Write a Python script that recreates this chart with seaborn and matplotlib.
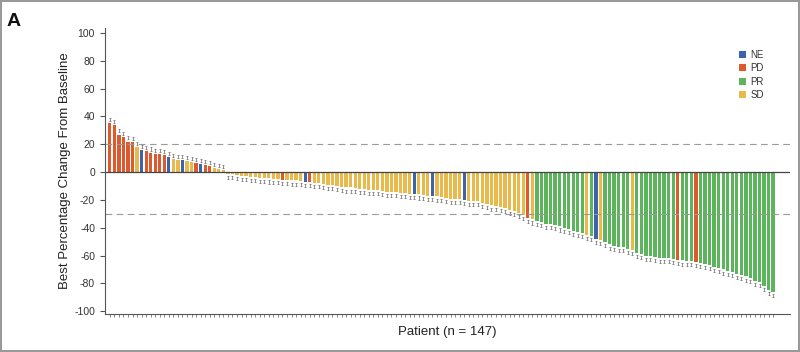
import numpy as np
import pandas as pd
import matplotlib.pyplot as plt
import seaborn as sns

# best % change from baseline, one bar per patient (sorted)
values = [
    35, 34, 27, 25, 22, 21.5, 18, 16, 15, 14,
    13, 13, 12.5, 11, 9.6, 8.6, 8.5, 8, 7, 6.7,
    5.5, 5, 4.5, 3, 2, 1.5,
    -1, -1.5, -2, -2.5, -3, -3.5, -3.5, -4, -4, -4.5,
    -5, -5, -5.5, -5.5, -6, -6, -6.5, -7, -7, -7.5,
    -8, -8.5, -9, -9.5, -10, -10.5, -11, -11, -11.5, -12,
    -12, -12.5, -13, -13, -13.5, -14, -14, -14.5, -15, -15,
    -15.5, -15.5, -16, -16.5, -17, -17, -17.5, -18, -18.5, -19,
    -19, -19.5, -20, -20.5, -21, -21, -22, -23, -24, -24.5,
    -25, -26, -27, -28, -29.5, -31, -33, -34, -35, -36,
    -37, -37.5, -38, -39, -40, -41, -42, -43, -44, -45,
    -46, -48, -49, -50, -52, -53, -53.5, -54, -55, -56,
    -58, -59, -60, -60.5, -61, -61.5, -62, -62, -62.5, -63,
    -63.5, -64, -64, -64.5, -65, -66, -67, -68, -69, -70,
    -71, -72, -73, -74, -75, -76, -78, -79, -82, -85,
    -86,
]

# response per patient, same order as values
responses = (
    ["PD"] * 6 + ["SD", "NE"] + ["PD"] * 5 + ["NE", "SD", "SD", "NE", "SD", "SD", "PD", "NE", "PD", "PD"]
    + ["SD"] * 3
    + ["SD"] * 12 + ["PD"] + ["SD"] * 4 + ["NE", "PD"]
    + ["SD"] * 22 + ["NE"] + ["SD"] * 3 + ["NE"] + ["SD"] * 6 + ["NE"]
    + ["SD"] * 13 + ["PD", "SD"]
    + ["PR"] * 11 + ["SD", "PR", "NE", "SD"] + ["PR"] * 6 + ["SD"]
    + ["PR"] * 9 + ["PD"] + ["PR"] * 3 + ["PD"] + ["PR"] * 17
)

hue_order = ["NE", "PD", "PR", "SD"]
palette = {"NE": "#3d63ad", "PD": "#dc5a2d", "PR": "#5cb45c", "SD": "#e9b94c"}

df = pd.DataFrame({"patient": np.arange(len(values)), "change": values, "response": responses})

sns.set_style("ticks")
plt.rcParams["font.family"] = ["Liberation Sans", "DejaVu Sans"]
plt.rcParams["axes.unicode_minus"] = False

fig = plt.figure(figsize=(8, 3.52), dpi=100)
fig.patch.set_edgecolor("#9a9a9a")
fig.patch.set_linewidth(1.5)
ax = fig.add_axes([0.131, 0.108, 0.857, 0.812])

sns.barplot(data=df, x="patient", y="change", hue="response", hue_order=hue_order,
            palette=palette, dodge=False, width=0.72, saturation=1, linewidth=0, ax=ax)

# little caps at the bar ends
sign = np.sign(df["change"])
ax.errorbar(df["patient"], df["change"] + sign * 2.6, yerr=1.1, fmt="none",
            ecolor="#666666", elinewidth=0.5, capsize=0.8, capthick=0.5)

ax.axhline(0, color="#444444", lw=0.9)
ax.axhline(20, color="#9a9a9a", lw=0.8, dashes=(6, 4))
ax.axhline(-30, color="#9a9a9a", lw=0.8, dashes=(6, 4))

ax.set_xlim(-1.1, 149.8)
ax.set_ylim(-102, 103.5)
ax.set_yticks(range(-100, 101, 20))
ax.set_xticks(df["patient"])
ax.set_xticklabels([])
ax.tick_params(axis="x", length=2.5, width=0.5, color="#555555")
ax.tick_params(axis="y", length=3.5, width=0.8, labelsize=7.5, color="#555555", labelcolor="#333333")
sns.despine(ax=ax)
ax.spines["left"].set_color("#555555")
ax.spines["bottom"].set_color("#555555")

ax.set_ylabel("Best Percentage Change From Baseline", fontsize=9.5, color="#222222", labelpad=2)
ax.set_xlabel("Patient (n = 147)", fontsize=9.5, color="#222222", labelpad=3)

leg = ax.legend(loc="upper left", bbox_to_anchor=(0.912, 0.955), frameon=False, fontsize=7,
                handlelength=0.7, handleheight=0.7, handletextpad=0.5, labelspacing=0.35)
for t in leg.get_texts():
    t.set_color("#333333")

fig.text(0.008, 0.925, "A", fontsize=14, fontweight="bold", color="#111111")

fig.savefig("out.png", dpi=100, edgecolor=fig.get_edgecolor())
